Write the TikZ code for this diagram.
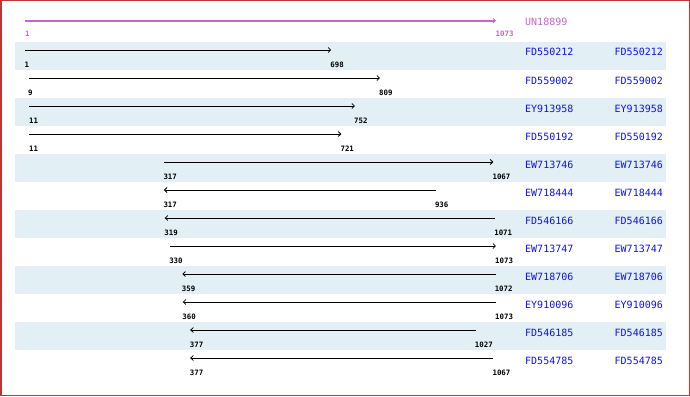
\documentclass[tikz,border=0pt]{standalone}
\usepackage{fontspec}
\usetikzlibrary{arrows.meta}
\newfontfamily\monofnt{DejaVu Sans Mono}
\definecolor{bandblue}{HTML}{E2F0F5}
\definecolor{namblue}{HTML}{1010E8}
\definecolor{orchidc}{HTML}{C864C8}
\definecolor{frame}{HTML}{C03434}
\tikzset{
  numlbl/.style={anchor=base west,inner sep=0pt,font=\monofnt\bfseries\fontsize{7.4}{9}\selectfont},
  namelbl/.style={anchor=base west,inner sep=0pt,font=\monofnt\fontsize{10}{12}\selectfont,text=namblue},
  f arr/.style={line width=0.9pt,-{Straight Barb[length=2.6pt,width=5pt,line width=0.8pt]}},
  r arr/.style={line width=0.9pt,{Straight Barb[length=2.6pt,width=5pt,line width=0.8pt]}-},
  band/.style={fill=bandblue,draw=none}
}
\begin{document}
\begin{tikzpicture}[x=1pt,y=-1pt]
\useasboundingbox (0,0) rectangle (690,396);
\draw[frame,line width=1.5pt] (0.75,0.75) rectangle (689.25,395.25);
% bands
\foreach \i in {0,2,4,6,8,10}{
  \fill[band] (15,{42+28*\i}) rectangle (666,{70+28*\i});
}
% header
\coordinate (hs) at (25,20.7);
\coordinate (he) at (496,20.7);
\draw[orchidc,line width=2pt,-{Straight Barb[length=2.6pt,width=5pt,line width=0.8pt]}] (hs) -- (he);
\node[numlbl,text=orchidc] (hl) at (25,36.5) {1};
\node[numlbl,text=orchidc] (hr) at (495.5,36.5) {1073};
\node[namelbl,text=orchidc] (hn) at (525,26) {UN18899};
% rows
\foreach \i/\s/\e/\d/\n in {0/1/698/f/FD550212,1/9/809/f/FD559002,2/11/752/f/EY913958,3/11/721/f/FD550192,4/317/1067/f/EW713746,5/317/936/r/EW718444,6/319/1071/r/FD546166,7/330/1073/f/EW713747,8/359/1072/r/EW718706,9/360/1073/r/EY910096,10/377/1027/r/FD546185,11/377/1067/r/FD554785}{
  \pgfmathsetmacro\xs{25+(\s-1)*0.439366}
  \pgfmathsetmacro\xe{25+(\e-1)*0.439366}
  \pgfmathsetmacro\yl{50+28*\i}
  \coordinate (s\i) at (\xs,\yl);
  \coordinate (e\i) at (\xe,\yl);
  \draw[\d\space arr] (s\i) -- (e\i);
  \node[numlbl] (ls\i) at (\xs-0.5,\yl+17) {\s};
  \node[numlbl] (le\i) at (\xe-1,\yl+17) {\e};
  \node[namelbl] (na\i) at (525,\yl+6) {\n};
  \node[namelbl] (nb\i) at (614.5,\yl+6) {\n};
}
\end{tikzpicture}
\end{document}
